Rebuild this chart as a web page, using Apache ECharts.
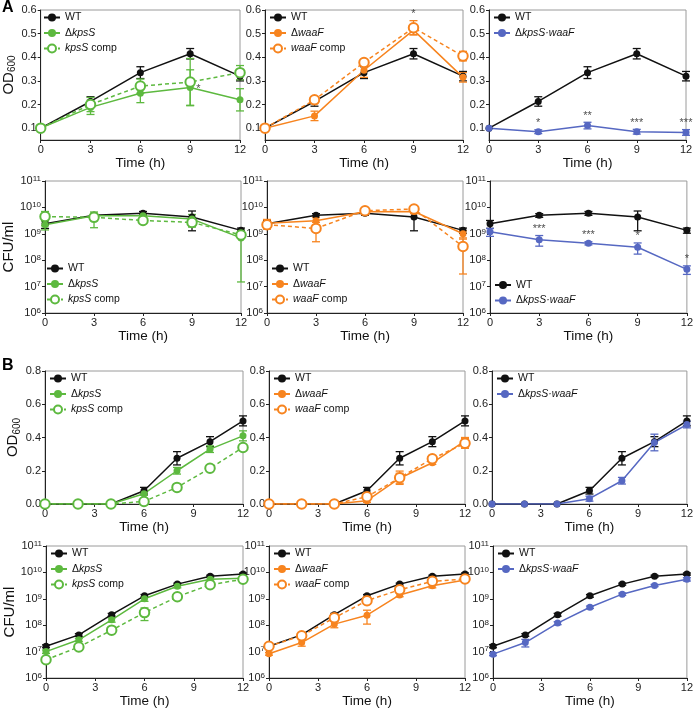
<!DOCTYPE html>
<html><head><meta charset="utf-8">
<script src="https://cdn.jsdelivr.net/npm/echarts@6/dist/echarts.min.js"></script>
<style>html,body{margin:0;padding:0;background:#fff}#c{width:696px;height:710px}</style>
</head><body><div id="c"></div>
<script>
// ================= DATA =================
const timeA = [0, 3, 6, 9, 12];
const timeB = [0, 2, 4, 6, 8, 10, 12];
const odTicksA = [0.1, 0.2, 0.3, 0.4, 0.5, 0.6];

// Panel A – OD600
const odA_WT = [0.10, 0.213, 0.335, 0.415, 0.32];
const odA_WT_sd = [0, 0.02, 0.025, 0.022, 0.02];
const odA_kpsS = [0.10, 0.188, 0.248, 0.272, 0.22];
const odA_kpsS_sd = [0, 0.03, 0.04, 0.075, 0.047];
const odA_kpsScomp = [0.10, 0.20, 0.278, 0.295, 0.335];
const odA_kpsScomp_sd = [0, 0.03, 0.03, 0.10, 0.03];
const odA_waaF = [0.10, 0.152, 0.345, 0.515, 0.315];
const odA_waaF_sd = [0, 0.02, 0.03, 0.02, 0.02];
const odA_waaFcomp = [0.10, 0.22, 0.378, 0.525, 0.405];
const odA_waaFcomp_sd = [0, 0.01, 0.012, 0.03, 0.02];
const odA_dbl = [0.10, 0.085, 0.111, 0.085, 0.082];
const odA_dbl_sd = [0, 0.008, 0.014, 0.01, 0.012];
const sigA_od_kpsS = ['', '', '', '*', ''];
const sigA_od_waaF = ['', '', '', '*', ''];
const sigA_od_dbl = ['', '*', '**', '***', '***'];

// Panel A – CFU/ml
const cfuA_WT = [2.4e9, 5.0e9, 6.0e9, 4.3e9, 1.35e9];
const cfuA_WT_sd = [0.8e9, 0.8e9, 1.0e9, 3.0e9, 0.3e9];
const cfuA_kpsS = [2.2e9, 4.8e9, 4.8e9, 3.6e9, 7.0e8];
const cfuA_kpsS_sd = [0.8e9, 1.2e9, 0.6e9, 1.8e9, 6.85e8];
const cfuA_kpsScomp = [4.5e9, 4.2e9, 3.2e9, 2.7e9, 9.0e8];
const cfuA_kpsScomp_sd = [2.5e9, 2.5e9, 0.5e9, 0.8e9, 2.0e8];
const cfuA_waaF = [2.5e9, 3.1e9, 6.8e9, 7.0e9, 1.0e9];
const cfuA_waaF_sd = [1.0e9, 1.0e9, 1.5e9, 1.2e9, 0.3e9];
const cfuA_waaFcomp = [2.2e9, 1.6e9, 7.5e9, 8.7e9, 3.3e8];
const cfuA_waaFcomp_sd = [0.6e9, 1.1e9, 2.0e9, 1.5e9, 3.0e8];
const cfuA_dbl = [1.2e9, 6.0e8, 4.4e8, 3.1e8, 4.5e7];
const cfuA_dbl_sd = [0.4e9, 2.6e8, 0.6e8, 1.4e8, 1.6e7];
const sigA_cfu_dbl = ['', '***', '***', '*', '*'];

// Panel B – OD600
const odB_WT = [0, 0, 0, 0.08, 0.275, 0.375, 0.50];
const odB_WT_sd = [0, 0, 0, 0.02, 0.04, 0.03, 0.03];
const odB_kpsS = [0, 0, 0, 0.062, 0.20, 0.33, 0.41];
const odB_kpsS_sd = [0, 0, 0, 0.01, 0.02, 0.02, 0.03];
const odB_kpsScomp = [0, 0, 0, 0.015, 0.10, 0.215, 0.34];
const odB_kpsScomp_sd = [0, 0, 0, 0, 0.01, 0.015, 0.01];
const odB_waaF = [0, 0, 0, 0.02, 0.155, 0.248, 0.38];
const odB_waaF_sd = [0, 0, 0, 0.01, 0.03, 0.01, 0.02];
const odB_waaFcomp = [0, 0, 0, 0.044, 0.158, 0.272, 0.365];
const odB_waaFcomp_sd = [0, 0, 0, 0.01, 0.04, 0.02, 0.03];
const odB_dbl = [0, 0, 0, 0.032, 0.14, 0.37, 0.478];
const odB_dbl_sd = [0, 0, 0, 0.015, 0.02, 0.05, 0.02];

// Panel B – CFU/ml
const cfuB_WT = [1.6e7, 4.3e7, 2.5e8, 1.3e9, 3.6e9, 7.2e9, 8.7e9];
const cfuB_WT_sd = [2e6, 5e6, 3e7, 1.5e8, 3e8, 6e8, 8e8];
const cfuB_kpsS = [1.0e7, 2.8e7, 1.6e8, 1.0e9, 3.0e9, 5.5e9, 6.0e9];
const cfuB_kpsS_sd = [1.5e6, 4e6, 3e7, 2e8, 4e8, 8e8, 1e9];
const cfuB_kpsScomp = [4.9e6, 1.5e7, 6.5e7, 3.0e8, 1.2e9, 3.4e9, 5.5e9];
const cfuB_kpsScomp_sd = [1e6, 2e6, 1.5e7, 1.5e8, 2e8, 5e8, 8e8];
const cfuB_waaF = [8.3e6, 2.2e7, 1.1e8, 2.4e8, 1.4e9, 3.1e9, 5.2e9];
const cfuB_waaF_sd = [1e6, 6e6, 3e7, 1.3e8, 2e8, 5e8, 8e8];
const cfuB_waaFcomp = [1.6e7, 4.0e7, 1.9e8, 8.5e8, 2.2e9, 4.6e9, 5.6e9];
const cfuB_waaFcomp_sd = [2e6, 5e6, 2e7, 1.2e8, 3e8, 6e8, 6e8];
const cfuB_dbl = [8.0e6, 2.2e7, 1.2e8, 4.8e8, 1.5e9, 3.2e9, 5.5e9];
const cfuB_dbl_sd = [1e6, 7e6, 1.5e7, 5e7, 1.5e8, 3e8, 8e8];

// ================= STYLE =================
const BLACK = '#111111', GREEN = '#5DB93F', ORANGE = '#F7841F', BLUE = '#5668C2';
const FONT = 'Liberation Sans, Arial, sans-serif';
const STY = {
  WT: {name: 'WT', color: BLACK, dash: false, open: false},
  kpsS: {name: 'ΔkpsS', color: GREEN, dash: false, open: false},
  kpsScomp: {name: 'kpsS comp', color: GREEN, dash: true, open: true},
  waaF: {name: 'ΔwaaF', color: ORANGE, dash: false, open: false},
  waaFcomp: {name: 'waaF comp', color: ORANGE, dash: true, open: true},
  dbl: {name: 'ΔkpsS·waaF', color: BLUE, dash: false, open: false}
};

// grid layout
const rows = [
  {top: 10, h: 130, lefts: [39, 265, 489], widths: [201, 198, 197], kind: 'odA', x: timeA, legend: 'top', yname: '{a|OD}{s|600}', ygap: 19},
  {top: 181, h: 132, lefts: [42, 267, 490], widths: [199, 196, 197], kind: 'cfu', x: timeA, legend: 'bottom', yname: 'CFU/ml', ygap: 23},
  {top: 371, h: 133, lefts: [45, 269, 492], widths: [198, 196, 196], kind: 'odB', x: timeB, legend: 'top', yname: '{a|OD}{s|600}', ygap: 20},
  {top: 546, h: 132, lefts: [46, 269, 493], widths: [197, 196, 197], kind: 'cfu', x: timeB, legend: 'top', yname: 'CFU/ml', ygap: 23}
];

const panels = [
  [['WT', odA_WT, odA_WT_sd], ['kpsS', odA_kpsS, odA_kpsS_sd, sigA_od_kpsS, 'right'], ['kpsScomp', odA_kpsScomp, odA_kpsScomp_sd]],
  [['WT', odA_WT, odA_WT_sd], ['waaF', odA_waaF, odA_waaF_sd], ['waaFcomp', odA_waaFcomp, odA_waaFcomp_sd, sigA_od_waaF]],
  [['WT', odA_WT, odA_WT_sd], ['dbl', odA_dbl, odA_dbl_sd, sigA_od_dbl]],
  [['WT', cfuA_WT, cfuA_WT_sd], ['kpsS', cfuA_kpsS, cfuA_kpsS_sd], ['kpsScomp', cfuA_kpsScomp, cfuA_kpsScomp_sd]],
  [['WT', cfuA_WT, cfuA_WT_sd], ['waaF', cfuA_waaF, cfuA_waaF_sd], ['waaFcomp', cfuA_waaFcomp, cfuA_waaFcomp_sd]],
  [['WT', cfuA_WT, cfuA_WT_sd], ['dbl', cfuA_dbl, cfuA_dbl_sd, sigA_cfu_dbl]],
  [['WT', odB_WT, odB_WT_sd], ['kpsS', odB_kpsS, odB_kpsS_sd], ['kpsScomp', odB_kpsScomp, odB_kpsScomp_sd]],
  [['WT', odB_WT, odB_WT_sd], ['waaF', odB_waaF, odB_waaF_sd], ['waaFcomp', odB_waaFcomp, odB_waaFcomp_sd]],
  [['WT', odB_WT, odB_WT_sd], ['dbl', odB_dbl, odB_dbl_sd]],
  [['WT', cfuB_WT, cfuB_WT_sd], ['kpsS', cfuB_kpsS, cfuB_kpsS_sd], ['kpsScomp', cfuB_kpsScomp, cfuB_kpsScomp_sd]],
  [['WT', cfuB_WT, cfuB_WT_sd], ['waaF', cfuB_waaF, cfuB_waaF_sd], ['waaFcomp', cfuB_waaFcomp, cfuB_waaFcomp_sd]],
  [['WT', cfuB_WT, cfuB_WT_sd], ['dbl', cfuB_dbl, cfuB_dbl_sd]]
];

function legendFmt(name) {
  if (name.charAt(0) === 'Δ') return '{n|Δ}{i|' + name.slice(1) + '}';
  if (name.slice(-5) === ' comp') return '{i|' + name.slice(0, -5) + '}{n| comp}';
  return '{n|' + name + '}';
}

const grids = [], xAxes = [], yAxes = [], series = [], legends = [];
const axisLineCol = '#222';

rows.forEach((row, r) => {
  for (let c = 0; c < 3; c++) {
    const idx = r * 3 + c;
    grids.push({left: row.lefts[c], top: row.top, width: row.widths[c], height: row.h,
      show: true, borderColor: '#9a9a9a', borderWidth: 1, backgroundColor: 'transparent'});
    xAxes.push({gridIndex: idx, type: 'value', min: 0, max: 12, interval: 3,
      name: 'Time (h)', nameLocation: 'middle', nameGap: 15,
      nameTextStyle: {fontSize: 13.5, color: '#111', fontFamily: FONT},
      axisLine: {show: true, onZero: false, lineStyle: {color: axisLineCol, width: 1}},
      axisTick: {show: true, length: 3, lineStyle: {color: axisLineCol}},
      axisLabel: {fontSize: 11, color: '#222', margin: 4, fontFamily: FONT},
      splitLine: {show: false}});
    const y = {gridIndex: idx, nameLocation: 'middle', nameRotate: 90,
      axisLine: {show: true, lineStyle: {color: axisLineCol, width: 1}},
      axisTick: {show: true, length: 3, lineStyle: {color: axisLineCol}},
      splitLine: {show: false},
      axisLabel: {fontSize: 11, color: '#222', margin: 4, fontFamily: FONT}};
    if (c === 0) {
      y.name = row.yname; y.nameGap = row.ygap;
      y.nameTextStyle = {fontSize: 15, color: '#111', fontFamily: FONT,
        rich: {a: {fontSize: 15, fontFamily: FONT, color: '#111', lineHeight: 18},
               s: {fontSize: 10, fontFamily: FONT, color: '#111', verticalAlign: 'bottom', lineHeight: 10}}};
    }
    if (row.kind === 'odA') {
      Object.assign(y, {type: 'value', min: 0.05, max: 0.6});
      y.axisLabel.customValues = odTicksA;
      y.axisLabel.formatter = v => v.toFixed(1);
      y.axisTick.customValues = odTicksA;
    } else if (row.kind === 'odB') {
      Object.assign(y, {type: 'value', min: 0, max: 0.8, interval: 0.2});
      y.axisLabel.formatter = v => v.toFixed(1);
    } else {
      Object.assign(y, {type: 'log', logBase: 10, min: 1e6, max: 1e11});
      y.axisLabel.formatter = v => '{b|10}{e|' + Math.round(Math.log10(v)) + '}';
      y.axisLabel.rich = {b: {fontSize: 11, fontFamily: FONT, color: '#222', lineHeight: 13},
                          e: {fontSize: 8, fontFamily: FONT, color: '#222', verticalAlign: 'top', lineHeight: 8}};
    }
    yAxes.push(y);

    const minV = row.kind === 'cfu' ? 1e6 : -1;
    const names = [];
    panels[idx].forEach(([key, vals, sds, sig, sigPos]) => {
      const st = STY[key];
      names.push(st.name);
      const errData = [];
      row.x.forEach((x, i) => { if (sds[i] > 0) errData.push([x, Math.max(vals[i] - sds[i], minV), vals[i] + sds[i]]); });
      series.push({type: 'custom', name: st.name + '_err' + idx, xAxisIndex: idx, yAxisIndex: idx, silent: true, z: 2,
        data: errData, encode: {x: 0, y: [1, 2]},
        renderItem: (params, api) => {
          const x = api.value(0), lo = api.value(1), hi = api.value(2);
          const p1 = api.coord([x, lo]), p2 = api.coord([x, hi]);
          const w = 4, s = {stroke: st.color, lineWidth: 1.3};
          return {type: 'group', children: [
            {type: 'line', shape: {x1: p1[0], y1: p1[1], x2: p2[0], y2: p2[1]}, style: s},
            {type: 'line', shape: {x1: p1[0] - w, y1: p1[1], x2: p1[0] + w, y2: p1[1]}, style: s},
            {type: 'line', shape: {x1: p2[0] - w, y1: p2[1], x2: p2[0] + w, y2: p2[1]}, style: s}]};
        }});
      series.push({type: 'line', name: st.name, xAxisIndex: idx, yAxisIndex: idx, z: 3,
        data: row.x.map((x, i) => [x, vals[i]]),
        symbol: st.open ? 'emptyCircle' : 'circle', symbolSize: st.open ? 9.5 : 7,
        lineStyle: {color: st.color, width: 1.5, type: st.dash ? [4, 3] : 'solid'},
        itemStyle: {color: st.color, borderColor: st.color, borderWidth: st.open ? 1.5 : 0},
        emphasis: {disabled: true}, animation: false});
      if (sig) {
        const sd = [];
        row.x.forEach((x, i) => { if (sig[i]) sd.push({value: [x, sigPos === 'right' ? vals[i] : vals[i] + sds[i]], s: sig[i]}); });
        series.push({type: 'scatter', name: 'sig' + idx, xAxisIndex: idx, yAxisIndex: idx, z: 6, silent: true,
          symbolSize: 0, data: sd,
          label: {show: true, position: sigPos === 'right' ? [6, -4] : 'top', distance: 1,
            fontSize: 11, color: '#222', fontFamily: FONT,
            formatter: p => p.data.s}});
      }
    });
    const n = names.length, itemH = 12, gap = 4.5;
    const legH = n * itemH + (n - 1) * gap;
    const ltop = row.legend === 'top' ? row.top + 2 : row.top + row.h - 5 - legH;
    legends.push({data: names, left: row.lefts[c] + 4, top: ltop, orient: 'vertical',
      itemWidth: 16, itemHeight: 10, itemGap: gap, padding: 0, selectedMode: false,
      formatter: legendFmt,
      textStyle: {fontSize: 10.5, color: '#111', fontFamily: FONT,
        rich: {n: {fontSize: 10.5, fontFamily: FONT, color: '#111', lineHeight: 12},
               i: {fontSize: 10.5, fontStyle: 'italic', fontFamily: FONT, color: '#111', lineHeight: 12}}}});
  }
});

const chart = echarts.init(document.getElementById('c'), null, {renderer: 'canvas'});
chart.setOption({
  animation: false,
  backgroundColor: '#fff',
  title: [
    {text: 'A', left: 2, top: 0, padding: 0, textStyle: {fontSize: 16, fontWeight: 'bold', color: '#000', fontFamily: FONT}},
    {text: 'B', left: 2, top: 358, padding: 0, textStyle: {fontSize: 16, fontWeight: 'bold', color: '#000', fontFamily: FONT}}
  ],
  grid: grids, xAxis: xAxes, yAxis: yAxes, legend: legends, series: series
});
</script></body></html>
